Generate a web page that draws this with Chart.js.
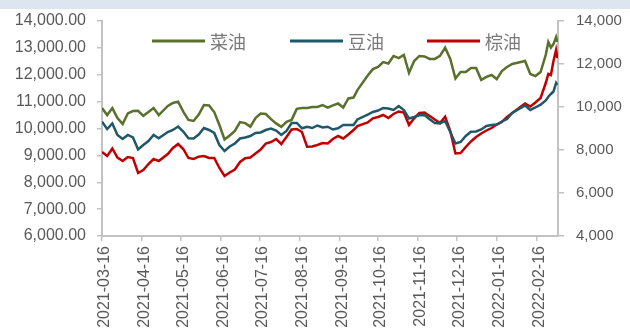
<!DOCTYPE html>
<html>
<head>
<meta charset="utf-8">
<script src="https://cdn.jsdelivr.net/npm/chart.js@4.4.1/dist/chart.umd.min.js"></script>
<style>
  html, body { margin: 0; padding: 0; background: #fff; }
  #wrap { position: relative; width: 630px; height: 333px; overflow: hidden; }
  #band { position: absolute; left: 0; top: 0; width: 630px; height: 9px; background: #dde6f0; }
  canvas { position: absolute; left: 0; top: 0; }
</style>
</head>
<body>
<div id="wrap">
  <div id="band"></div>
  <canvas id="priceChart" width="630" height="333"></canvas>
</div>
<script>
// trading dates (sampled)
const dates = [
  '2021-03-16','2021-03-20','2021-03-24','2021-03-28','2021-04-01','2021-04-05','2021-04-09','2021-04-13','2021-04-17','2021-04-21','2021-04-25','2021-04-29',
  '2021-05-06','2021-05-10','2021-05-14','2021-05-18','2021-05-22','2021-05-26','2021-05-30',
  '2021-06-03','2021-06-07','2021-06-11','2021-06-15','2021-06-19','2021-06-23','2021-06-27',
  '2021-07-01','2021-07-05','2021-07-09','2021-07-13','2021-07-17','2021-07-21','2021-07-25','2021-07-29',
  '2021-08-02','2021-08-06','2021-08-10','2021-08-14','2021-08-18','2021-08-22','2021-08-26','2021-08-30',
  '2021-09-03','2021-09-07','2021-09-11','2021-09-15','2021-09-19','2021-09-23','2021-09-27','2021-09-30',
  '2021-10-08','2021-10-12','2021-10-16','2021-10-20','2021-10-24','2021-10-28',
  '2021-11-01','2021-11-05','2021-11-09','2021-11-13','2021-11-17','2021-11-21','2021-11-25','2021-11-29',
  '2021-12-03','2021-12-07','2021-12-11','2021-12-15','2021-12-19','2021-12-23','2021-12-27','2021-12-31',
  '2022-01-04','2022-01-08','2022-01-12','2022-01-16','2022-01-20','2022-01-24','2022-01-28',
  '2022-02-07','2022-02-11','2022-02-15','2022-02-19','2022-02-23','2022-02-25','2022-02-27',
  '2022-03-01','2022-03-03','2022-03-04'
];

// 菜油 (left axis)
const caiyou = [
  10760,10500,10760,10390,10170,10560,10650,10660,10470,10610,10760,10500,
  10840,10950,11000,10630,10320,10280,10520,
  10870,10860,10610,10130,9590,9740,9910,
  10240,10200,10070,10390,10560,10540,10350,10190,
  10060,10250,10320,10730,10760,10760,10800,10800,
  10870,10780,10860,10930,10780,11120,11150,11430,
  11970,12210,12290,12470,12420,12700,
  12620,12740,12070,12510,12700,12680,12590,12590,
  12700,13010,12590,11860,12100,12100,12250,12250,
  11810,11920,11990,11840,12140,12290,12400,
  12510,12030,11950,12100,12740,13220,13010,
  13140,13400,13220
];

// 豆油 (right axis)
const douyou = [
  9316,8977,9233,8698,8512,8698,8582,8023,8233,8419,8698,8544,
  8837,8930,9093,8861,8544,8535,8721,
  9023,8930,8791,8233,7954,8163,8303,
  8535,8582,8651,8791,8814,8930,9000,8907,
  8698,8884,9256,9256,9009,9084,9023,9140,
  9047,9084,8954,9009,9163,9163,9163,9419,
  9651,9768,9837,9954,9930,9861,
  10047,9861,9465,9535,9614,9628,9428,9256,
  9233,9349,8837,8303,8372,8651,8851,8860,
  8954,9116,9163,9186,9326,9442,9721,
  10070,9861,9977,10107,10302,10479,10605,
  10721,11116,11023
];

// 棕油 (right axis)
const zongyou = [
  7907,7721,8070,7651,7489,7675,7628,6930,7070,7349,7582,7489,
  7814,8093,8279,8047,7628,7582,7689,
  7721,7628,7628,7163,6791,6954,7093,
  7442,7614,7651,7837,8023,8303,8372,8512,
  8279,8605,8954,8977,8837,8154,8163,8233,
  8326,8303,8512,8651,8535,8721,8930,9116,
  9279,9475,9535,9628,9489,9675,
  9791,9744,9163,9475,9721,9744,9582,9419,
  9256,9549,8884,7837,7861,8140,8395,8605,
  8768,8907,9023,9186,9302,9535,9721,
  10163,10023,10209,10419,11116,11535,11488,
  12140,12651,12279
];

const xTicks = ['2021-03-16','2021-04-16','2021-05-16','2021-06-16','2021-07-16','2021-08-16',
  '2021-09-16','2021-10-16','2021-11-16','2021-12-16','2022-01-16','2022-02-16'];

const toPts = arr => dates.map((d, i) => ({ x: Date.parse(d), y: arr[i] }));

// legend drawn inside the plot area
const insideLegend = {
  id: 'insideLegend',
  afterDatasetsDraw(chart, args, opts) {
    const ctx = chart.ctx;
    ctx.save();
    ctx.font = '18px "Noto Sans CJK SC"';
    ctx.textBaseline = 'middle';
    chart.data.datasets.forEach((ds, i) => {
      const x = opts.xs[i], y = opts.y;
      ctx.strokeStyle = ds.borderColor;
      ctx.lineWidth = 3;
      ctx.beginPath();
      ctx.moveTo(x, y);
      ctx.lineTo(x + 53, y);
      ctx.stroke();
      ctx.fillStyle = '#7a7a7a';
      ctx.fillText(ds.label, x + 58, y + 1);
    });
    ctx.restore();
  }
};

const axisColor = '#c3c3c3';
const tickFont = { family: '"Liberation Sans", Arial, sans-serif', size: 16 };

new Chart(document.getElementById('priceChart').getContext('2d'), {
  type: 'line',
  data: {
    datasets: [
      { label: '菜油', data: toPts(caiyou), borderColor: '#5a702c', borderWidth: 2.5, yAxisID: 'y' },
      { label: '豆油', data: toPts(douyou), borderColor: '#1f5869', borderWidth: 2.5, yAxisID: 'y1' },
      { label: '棕油', data: toPts(zongyou), borderColor: '#c00000', borderWidth: 2.5, yAxisID: 'y1' }
    ]
  },
  options: {
    responsive: false,
    animation: false,
    layout: { padding: { top: 21, left: 0, right: 0, bottom: 0 } },
    elements: { point: { radius: 0 }, line: { tension: 0 } },
    plugins: {
      legend: { display: false },
      tooltip: { enabled: false },
      insideLegend: { xs: [152, 290, 427], y: 41 }
    },
    scales: {
      x: {
        type: 'linear',
        min: Date.parse('2021-03-16'),
        max: Date.parse('2022-03-04') + 12 * 3600 * 1000,
        afterBuildTicks: s => { s.ticks = xTicks.map(t => ({ value: Date.parse(t) })); },
        afterFit: s => { s.height = 97; },
        grid: { drawOnChartArea: false, drawTicks: true, tickLength: 5, color: axisColor, lineWidth: 1.5 },
        border: { color: axisColor, width: 2 },
        ticks: {
          color: '#595959', font: tickFont, minRotation: 90, maxRotation: 90, padding: 5, labelOffset: 3,
          autoSkip: false,
          callback: v => new Date(v).toISOString().slice(0, 10)
        }
      },
      y: {
        position: 'left',
        min: 6000, max: 14000,
        afterFit: s => { s.width = 102; },
        grid: { drawOnChartArea: false, drawTicks: true, tickLength: 5, color: axisColor, lineWidth: 1.5 },
        border: { color: axisColor, width: 2 },
        ticks: {
          stepSize: 1000, color: '#595959', font: tickFont, padding: 11,
          callback: v => v.toLocaleString('en-US', { minimumFractionDigits: 2, maximumFractionDigits: 2 })
        }
      },
      y1: {
        position: 'right',
        min: 4000, max: 14000,
        afterFit: s => { s.width = 72; },
        grid: { drawOnChartArea: false, drawTicks: true, tickLength: 6, color: axisColor, lineWidth: 1.5 },
        border: { color: axisColor, width: 2 },
        ticks: {
          stepSize: 2000, color: '#595959', font: { family: '"Liberation Sans", Arial, sans-serif', size: 15 }, padding: 12,
          callback: v => v.toLocaleString('en-US')
        }
      }
    }
  },
  plugins: [insideLegend]
});
</script>
</body>
</html>
